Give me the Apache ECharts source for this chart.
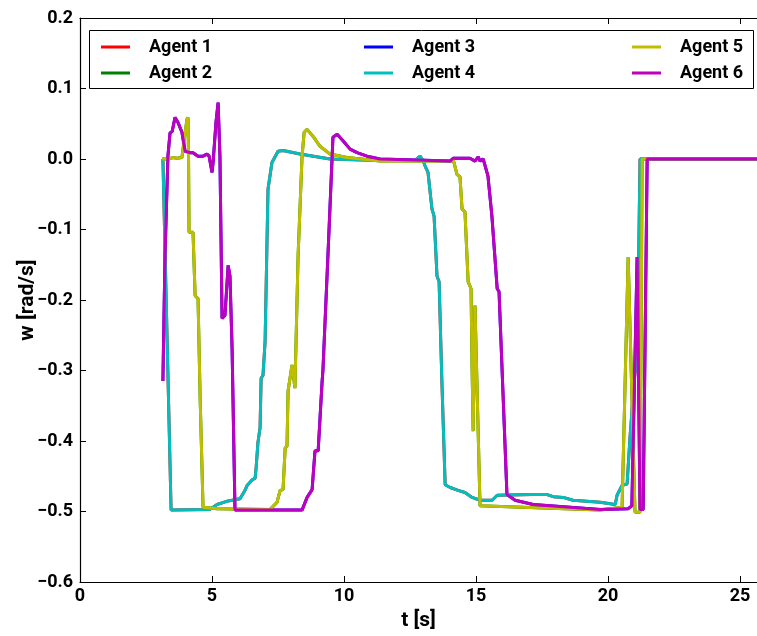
<!DOCTYPE html>
<html><head><meta charset="utf-8">
<script src="https://cdn.jsdelivr.net/npm/echarts@6/dist/echarts.min.js"></script>
<style>html,body{margin:0;padding:0;background:#fff}#c{width:757px;height:636px}</style>
</head><body><div id="c"></div>
<script>
// Agent 4 (cyan); Agent 1 lies underneath it
const t4=[3.14,3.45,4.92,5.19,5.61,6.06,6.25,6.33,6.52,6.63,6.67,6.74,6.82,6.86,6.93,7.01,7.12,7.27,7.5,7.69,8.33,9.47,11.36,12.69,12.88,12.99,13.07,13.18,13.33,13.41,13.52,13.6,13.71,13.83,14.02,14.32,14.58,14.85,15.15,15.61,15.8,17.16,17.69,17.92,18.3,18.67,19.7,20.27,20.34,20.53,20.72,20.83,21.02,21.1,21.21,25.7];
const w4=[0.0,-0.498,-0.497,-0.49,-0.485,-0.482,-0.47,-0.463,-0.455,-0.453,-0.438,-0.402,-0.381,-0.311,-0.307,-0.259,-0.043,-0.005,0.011,0.012,0.007,0.0,-0.002,-0.002,0.004,-0.002,-0.01,-0.019,-0.071,-0.081,-0.166,-0.174,-0.321,-0.462,-0.466,-0.47,-0.473,-0.48,-0.484,-0.484,-0.477,-0.476,-0.476,-0.479,-0.48,-0.484,-0.487,-0.49,-0.477,-0.463,-0.461,-0.395,-0.301,-0.297,0.0,0.0];
// Agent 5 (yellow); Agent 2 lies underneath it
const t5=[3.11,3.33,3.52,3.67,3.86,3.9,4.05,4.09,4.11,4.13,4.28,4.36,4.47,4.55,4.66,5.19,7.2,7.46,7.58,7.69,7.77,7.84,7.88,8.03,8.07,8.14,8.26,8.41,8.49,8.6,8.83,9.09,9.47,10.11,11.36,14.09,14.13,14.28,14.39,14.47,14.58,14.7,14.81,14.85,14.89,14.96,15.15,19.7,20.53,20.76,21.02,21.21,21.29,25.7];
const w5=[0.0,0.0,0.002,0.001,0.002,0.014,0.056,0.059,0.004,-0.104,-0.104,-0.194,-0.198,-0.339,-0.494,-0.496,-0.497,-0.487,-0.47,-0.469,-0.41,-0.407,-0.329,-0.292,-0.292,-0.325,-0.137,0.004,0.038,0.042,0.032,0.018,0.007,0.002,-0.003,-0.003,0.0,-0.022,-0.025,-0.071,-0.075,-0.174,-0.184,-0.297,-0.386,-0.208,-0.492,-0.498,-0.494,-0.139,-0.501,-0.501,0.0,0.0];
// Agent 6 (magenta); Agent 3 lies underneath it
const t6=[3.14,3.22,3.33,3.41,3.49,3.6,3.71,3.86,3.98,4.17,4.28,4.47,4.66,4.81,4.89,5.0,5.04,5.15,5.23,5.3,5.38,5.49,5.61,5.68,5.76,5.87,8.41,8.6,8.79,8.9,9.02,9.17,9.2,9.39,9.55,9.58,9.74,9.96,10.23,10.49,10.87,11.36,14.02,14.13,14.77,14.96,15.08,15.15,15.27,15.45,15.6,15.64,15.8,15.87,16.17,16.48,17.16,19.7,20.76,20.9,21.1,21.21,21.33,21.48,25.7];
const w6=[-0.315,-0.137,0.004,0.037,0.039,0.059,0.052,0.038,0.011,0.009,0.009,0.004,0.004,0.007,0.004,-0.019,-0.005,0.052,0.08,0.004,-0.226,-0.222,-0.151,-0.166,-0.269,-0.498,-0.498,-0.48,-0.469,-0.414,-0.414,-0.315,-0.3,-0.137,0.004,0.031,0.035,0.026,0.014,0.009,0.004,0.0,-0.003,0.001,0.001,-0.003,0.003,-0.003,0.0,-0.024,-0.081,-0.082,-0.184,-0.188,-0.476,-0.484,-0.49,-0.497,-0.496,-0.492,-0.139,-0.497,-0.497,0.0,0.0];

const agentNames=['Agent 1','Agent 2','Agent 3','Agent 4','Agent 5','Agent 6'];
const agentColors=['#ff0000','#008000','#0000ff','#00bfbf','#bfbf00','#bf00bf'];
const xTicks=[0,5,10,15,20,25];
const yTicks=[-0.6,-0.5,-0.4,-0.3,-0.2,-0.1,0.0,0.1,0.2];

const traces=[[t4,w4],[t5,w5],[t6,w6],[t4,w4],[t5,w5],[t6,w6]];
const FONT='Roboto, "Liberation Sans", sans-serif';
const fmtY=v=>{const r=Math.round(v*10)/10;return (r<0?'\u2212':'')+Math.abs(r).toFixed(1);};
const fmtX=v=>xTicks.some(t=>Math.abs(t-v)<1e-6)?String(Math.round(v)):'';

const chart=echarts.init(document.getElementById('c'),null,{renderer:'canvas'});
const axisCommon={
  type:'value',min:0,max:25.64,interval:5,
  axisLine:{show:true,onZero:false,lineStyle:{color:'#000',width:1.2}},
  axisTick:{show:true,inside:true,length:6,lineStyle:{color:'#000',width:1}},
  splitLine:{show:false}
};
const legendCommon={orient:'vertical',icon:'rect',itemWidth:29,itemHeight:3,itemGap:6,
  textStyle:{fontFamily:FONT,fontWeight:'bold',fontSize:18,color:'#000',lineHeight:20,padding:[0,0,0,14]},
  padding:0,selectedMode:false,z:10};
chart.setOption({
  animation:false,
  backgroundColor:'#fff',
  grid:{left:80,top:18,right:0,bottom:52,containLabel:false},
  xAxis:[
    Object.assign({},axisCommon,{position:'bottom',
      name:'t [s]',nameLocation:'middle',nameGap:28,nameMoveOverlap:false,
      nameTextStyle:{fontFamily:FONT,fontWeight:'bold',fontSize:21,color:'#000'},
      axisLabel:{formatter:fmtX,margin:5,fontFamily:FONT,fontWeight:'bold',fontSize:18,color:'#000',showMaxLabel:false}}),
    Object.assign({},axisCommon,{position:'top',axisLabel:{show:false}})
  ],
  yAxis:[{
    type:'value',min:-0.6,max:0.2,interval:0.1,
    axisLine:{show:true,onZero:false,lineStyle:{color:'#000',width:1.2}},
    axisTick:{show:true,inside:true,length:6,lineStyle:{color:'#000',width:1}},
    splitLine:{show:false},
    axisLabel:{formatter:fmtY,margin:7,fontFamily:FONT,fontWeight:'bold',fontSize:18,color:'#000'},
    name:'w [rad/s]',nameLocation:'middle',nameGap:42,nameRotate:90,nameMoveOverlap:false,
    nameTextStyle:{fontFamily:FONT,fontWeight:'bold',fontSize:21,color:'#000'}
  }],
  legend:[
    Object.assign({},legendCommon,{left:101,top:37,data:['Agent 1','Agent 2']}),
    Object.assign({},legendCommon,{left:364,top:37,data:['Agent 3','Agent 4']}),
    Object.assign({},legendCommon,{left:632,top:37,data:['Agent 5','Agent 6']})
  ],
  graphic:[{type:'rect',shape:{x:89.5,y:30.5,width:664,height:58},
    style:{fill:'none',stroke:'#000',lineWidth:1},z:1}],
  series:agentNames.map((n,i)=>({
    name:n,type:'line',xAxisIndex:0,yAxisIndex:0,
    data:traces[i][0].map((t,k)=>[t,traces[i][1][k]]),
    showSymbol:false,symbol:'none',
    lineStyle:{color:agentColors[i],width:3},
    itemStyle:{color:agentColors[i]},
    clip:true,z:2+i
  }))
});
</script></body></html>
